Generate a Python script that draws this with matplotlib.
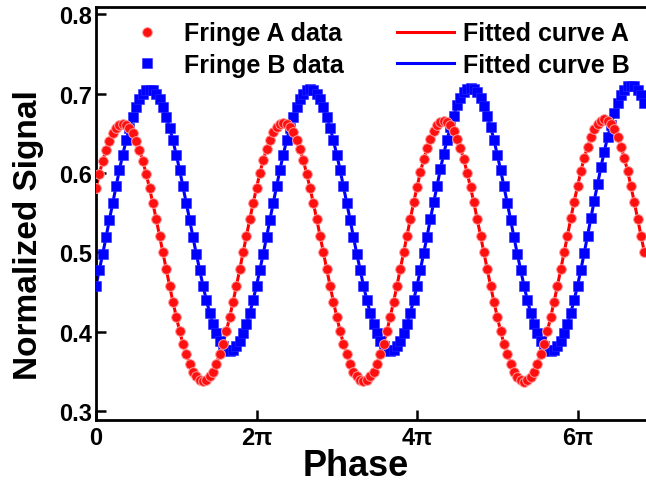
import numpy as np
import matplotlib
matplotlib.use('Agg')
import matplotlib.pyplot as plt

plt.rcParams['font.family'] = ['Liberation Sans', 'DejaVu Sans']
plt.rcParams['font.weight'] = 'bold'

# phase step between samples (rad)
phase_step = np.pi / 24

# normalized signal of fringe A, one row per fringe period
fringe_a = [
    0.581, 0.599, 0.615, 0.629, 0.640, 0.650, 0.657, 0.661, 0.662, 0.661, 0.657, 0.650,
    0.640, 0.629, 0.615, 0.599, 0.581, 0.562, 0.542, 0.521, 0.500, 0.479, 0.458, 0.438,
    0.419, 0.401, 0.385, 0.372, 0.360, 0.350, 0.344, 0.339, 0.338, 0.339, 0.344, 0.350,
    0.360, 0.372, 0.385, 0.401, 0.419, 0.438, 0.458, 0.479, 0.500, 0.521, 0.542, 0.562,

    0.581, 0.600, 0.616, 0.630, 0.641, 0.651, 0.658, 0.662, 0.663, 0.662, 0.658, 0.651,
    0.641, 0.630, 0.616, 0.599, 0.581, 0.562, 0.542, 0.521, 0.500, 0.479, 0.458, 0.438,
    0.419, 0.401, 0.385, 0.372, 0.360, 0.350, 0.344, 0.339, 0.338, 0.339, 0.344, 0.350,
    0.360, 0.372, 0.385, 0.401, 0.419, 0.438, 0.458, 0.479, 0.500, 0.521, 0.542, 0.563,

    0.582, 0.601, 0.617, 0.631, 0.643, 0.653, 0.660, 0.664, 0.665, 0.664, 0.660, 0.653,
    0.643, 0.631, 0.617, 0.600, 0.582, 0.563, 0.542, 0.521, 0.500, 0.479, 0.458, 0.438,
    0.419, 0.401, 0.385, 0.372, 0.360, 0.350, 0.343, 0.339, 0.337, 0.339, 0.343, 0.350,
    0.360, 0.372, 0.385, 0.401, 0.419, 0.438, 0.458, 0.479, 0.500, 0.521, 0.543, 0.564,

    0.583, 0.602, 0.619, 0.633, 0.645, 0.655, 0.662, 0.666, 0.668, 0.666, 0.662, 0.655,
    0.645, 0.633, 0.619, 0.602, 0.583, 0.563, 0.542, 0.521, 0.500,
]

# normalized signal of fringe B
fringe_b = [
    0.458, 0.478, 0.498, 0.519, 0.541, 0.562, 0.583, 0.604, 0.623, 0.641, 0.657, 0.671,
    0.683, 0.693, 0.699, 0.704, 0.705, 0.704, 0.699, 0.693, 0.683, 0.671, 0.657, 0.641,
    0.623, 0.604, 0.583, 0.562, 0.541, 0.519, 0.498, 0.478, 0.458, 0.440, 0.424, 0.410,
    0.398, 0.389, 0.382, 0.377, 0.376, 0.377, 0.382, 0.389, 0.398, 0.410, 0.424, 0.440,

    0.458, 0.478, 0.498, 0.519, 0.541, 0.562, 0.583, 0.604, 0.623, 0.641, 0.657, 0.671,
    0.683, 0.693, 0.700, 0.704, 0.706, 0.704, 0.700, 0.693, 0.683, 0.671, 0.657, 0.641,
    0.623, 0.604, 0.583, 0.562, 0.541, 0.519, 0.498, 0.478, 0.458, 0.440, 0.424, 0.410,
    0.398, 0.389, 0.382, 0.377, 0.376, 0.377, 0.382, 0.389, 0.398, 0.410, 0.424, 0.440,

    0.458, 0.478, 0.499, 0.520, 0.542, 0.563, 0.584, 0.605, 0.624, 0.642, 0.658, 0.672,
    0.685, 0.695, 0.702, 0.706, 0.707, 0.706, 0.702, 0.695, 0.684, 0.672, 0.658, 0.642,
    0.623, 0.604, 0.583, 0.562, 0.541, 0.519, 0.498, 0.478, 0.458, 0.440, 0.424, 0.410,
    0.398, 0.389, 0.382, 0.377, 0.376, 0.377, 0.382, 0.389, 0.398, 0.410, 0.424, 0.440,

    0.458, 0.478, 0.499, 0.521, 0.543, 0.565, 0.586, 0.607, 0.627, 0.645, 0.661, 0.675,
    0.688, 0.698, 0.705, 0.709, 0.710, 0.709, 0.705, 0.698, 0.688,
]

phase = np.arange(len(fringe_a)) * phase_step

fig = plt.figure(figsize=(6.46, 4.89), dpi=100)
ax = fig.add_axes([96 / 646, 68 / 489, 550 / 646, 413 / 489])

fit_a, = ax.plot(phase, fringe_a, color='#ff0000', lw=2.2, label='Fitted curve A', zorder=2)
fit_b, = ax.plot(phase, fringe_b, color='#0000ff', lw=2.2, label='Fitted curve B', zorder=2)
pts_b, = ax.plot(phase, fringe_b, ls='none', marker='s', ms=7, mfc='#0000ff',
                 mec='#2a2aff', mew=0.4, label='Fringe B data', zorder=3)
pts_a, = ax.plot(phase, fringe_a, ls='none', marker='o', ms=7, mfc='#ff1010',
                 mec='#ff9a9a', mew=0.7, label='Fringe A data', zorder=4)

ax.set_xlim(0, 550 / 80.25 * np.pi)
ax.set_ylim(0.289, 0.809)
ax.set_xticks([0, 2 * np.pi, 4 * np.pi, 6 * np.pi])
ax.set_xticklabels(['0', '2π', '4π', '6π'])
ax.set_yticks([0.3, 0.4, 0.5, 0.6, 0.7, 0.8])
ax.set_yticklabels(['0.3', '0.4', '0.5', '0.6', '0.7', '0.8'])

ax.tick_params(direction='in', length=7, width=1.8, labelsize=17, pad=4)
ax.tick_params(axis='y', pad=3)
ax.spines['right'].set_visible(False)
for side in ['left', 'bottom', 'top']:
    ax.spines[side].set_linewidth(2.0)

ax.set_xlabel('Phase', fontsize=26, fontweight='bold')
ax.set_ylabel('Normalized Signal', fontsize=24, fontweight='bold')
ax.xaxis.set_label_coords(0.473, -0.133)
ax.xaxis.label.set_va('baseline')
ax.yaxis.set_label_coords(-0.095, 0.45)

ax.legend(handles=[pts_a, pts_b, fit_a, fit_b], ncol=2, frameon=False, fontsize=18,
          numpoints=1, handlelength=2.3, handletextpad=0.35, columnspacing=2.1,
          labelspacing=0.3, loc='upper left', bbox_to_anchor=(0.183, 0.954),
          bbox_transform=fig.transFigure, borderpad=0, borderaxespad=0)

fig.savefig('out.png', dpi=100)
